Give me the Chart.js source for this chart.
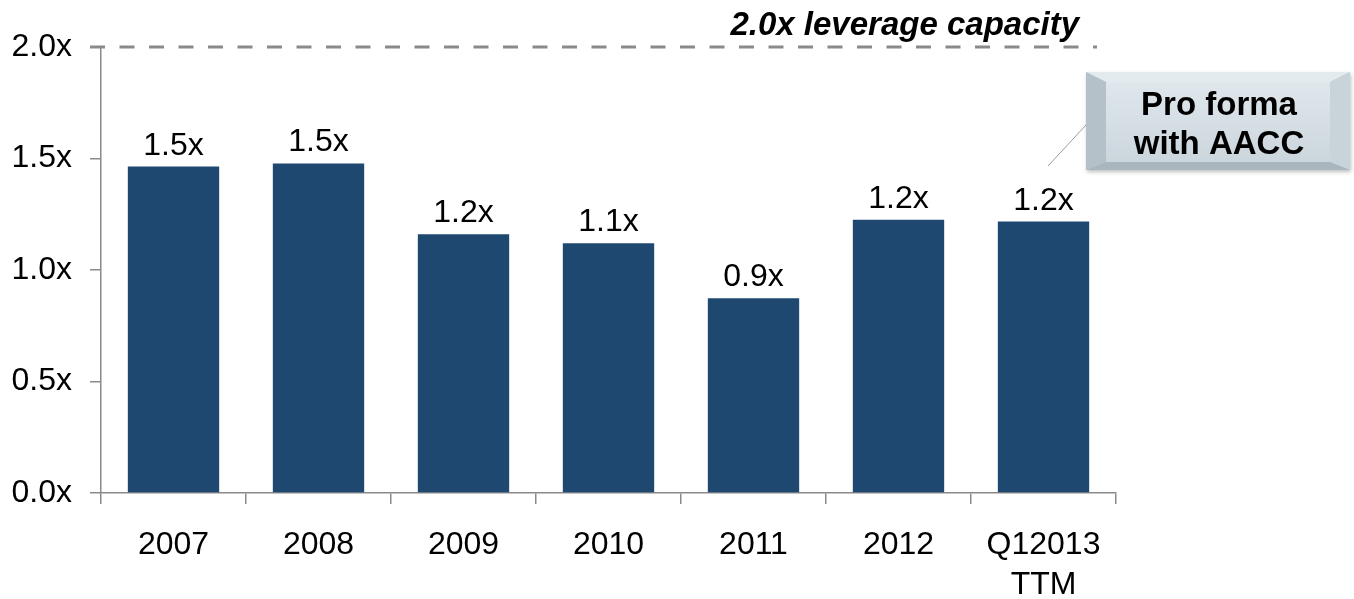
<!DOCTYPE html>
<html>
<head>
<meta charset="utf-8">
<script src="https://cdn.jsdelivr.net/npm/chart.js@4/dist/chart.umd.min.js"></script>
<style>
  html, body { margin: 0; padding: 0; background: #fff; }
  #wrap { width: 1354px; height: 599px; position: relative; }
</style>
</head>
<body>
<div id="wrap"><canvas id="miGrafico"></canvas></div>
<script>
// data
const labels = ['2007', '2008', '2009', '2010', '2011', '2012', ['Q12013', 'TTM']];
const leverage = [1.464, 1.478, 1.16, 1.12, 0.873, 1.225, 1.217];
const yTicks = [0, 0.5, 1.0, 1.5, 2.0];
const capacity = 2.0;
const capacityText = '2.0x leverage capacity';
const calloutLines = ['Pro forma', 'with AACC'];

const FONT = '"Liberation Sans", Arial, sans-serif';

const extras = {
    id: 'extras',
    afterDatasetsDraw(chart) {
        const ctx = chart.ctx;
        const area = chart.chartArea;
        const y = chart.scales.y;

        // value labels on top of bars
        ctx.save();
        ctx.fillStyle = '#000';
        ctx.font = '32px ' + FONT;
        ctx.textAlign = 'center';
        ctx.textBaseline = 'alphabetic';
        chart.getDatasetMeta(0).data.forEach((bar, i) => {
            ctx.fillText(leverage[i].toFixed(1) + 'x', bar.x, bar.y - 12);
        });
        ctx.restore();

        // capacity dashed line
        const yc = y.getPixelForValue(capacity);
        ctx.save();
        ctx.strokeStyle = '#8a8a8a';
        ctx.lineWidth = 3;
        ctx.setLineDash([15, 14.5]);
        ctx.beginPath();
        ctx.moveTo(area.left - 11, yc);
        ctx.lineTo(area.right - 19, yc);
        ctx.stroke();
        ctx.restore();

        ctx.save();
        ctx.fillStyle = '#000';
        ctx.font = 'italic bold 33px ' + FONT;
        ctx.textAlign = 'right';
        ctx.textBaseline = 'alphabetic';
        ctx.fillText(capacityText, area.right - 37, yc - 12);
        ctx.restore();

        // callout box
        const bx = area.right - 30, by = 72, bw = 264, bh = 98;
        ctx.save();
        ctx.strokeStyle = '#9a9a9a';
        ctx.lineWidth = 1;
        ctx.beginPath();
        ctx.moveTo(area.right - 68, 166);
        ctx.lineTo(bx, 125);
        ctx.stroke();

        ctx.shadowColor = 'rgba(0,0,0,0.25)';
        ctx.shadowBlur = 4;
        ctx.shadowOffsetX = 1;
        ctx.shadowOffsetY = 2;
        ctx.fillStyle = '#c3cfd6';
        ctx.fillRect(bx, by, bw, bh);
        ctx.shadowColor = 'transparent';

        // bevel edges
        const inset = { l: 20, r: 20, t: 10, b: 8 };
        ctx.fillStyle = '#e4ebef';
        ctx.beginPath();
        ctx.moveTo(bx, by); ctx.lineTo(bx + bw, by);
        ctx.lineTo(bx + bw - inset.r, by + inset.t); ctx.lineTo(bx + inset.l, by + inset.t);
        ctx.closePath(); ctx.fill();
        ctx.fillStyle = '#b4c1c9';
        ctx.beginPath();
        ctx.moveTo(bx, by); ctx.lineTo(bx + inset.l, by + inset.t);
        ctx.lineTo(bx + inset.l, by + bh - inset.b); ctx.lineTo(bx, by + bh);
        ctx.closePath(); ctx.fill();
        ctx.fillStyle = '#c9d4da';
        ctx.beginPath();
        ctx.moveTo(bx + bw, by); ctx.lineTo(bx + bw - inset.r, by + inset.t);
        ctx.lineTo(bx + bw - inset.r, by + bh - inset.b); ctx.lineTo(bx + bw, by + bh);
        ctx.closePath(); ctx.fill();
        ctx.fillStyle = '#a9b6be';
        ctx.beginPath();
        ctx.moveTo(bx, by + bh); ctx.lineTo(bx + inset.l, by + bh - inset.b);
        ctx.lineTo(bx + bw - inset.r, by + bh - inset.b); ctx.lineTo(bx + bw, by + bh);
        ctx.closePath(); ctx.fill();

        const g = ctx.createLinearGradient(0, by + inset.t, 0, by + bh - inset.b);
        g.addColorStop(0, '#dfe7ec');
        g.addColorStop(1, '#cbd6dc');
        ctx.fillStyle = g;
        ctx.fillRect(bx + inset.l, by + inset.t, bw - inset.l - inset.r, bh - inset.t - inset.b);

        ctx.fillStyle = '#000';
        ctx.font = 'bold 33px ' + FONT;
        ctx.textAlign = 'center';
        ctx.textBaseline = 'alphabetic';
        calloutLines.forEach((t, i) => {
            ctx.fillText(t, bx + 133, 115 + i * 38.5);
        });
        ctx.restore();
    }
};

const grafico = new Chart(document.getElementById('miGrafico'), {
    type: 'bar',
    data: {
        labels: labels,
        datasets: [{
            data: leverage,
            backgroundColor: '#1f4870',
            borderWidth: 0,
            categoryPercentage: 1,
            barPercentage: 0.63
        }]
    },
    options: {
        responsive: true,
        maintainAspectRatio: false,
        animation: false,
        layout: { padding: { top: 47, right: 238, left: 0, bottom: 0 } },
        plugins: {
            legend: { display: false },
            tooltip: { enabled: false }
        },
        scales: {
            x: {
                afterFit(scale) { scale.height = 106; },
                grid: { drawOnChartArea: false, color: '#8a8a8a', tickLength: 11, lineWidth: 1.5 },
                border: { color: '#8a8a8a', width: 1.5 },
                ticks: { color: '#000', font: { family: FONT, size: 32, lineHeight: 1.25 }, padding: 21, maxRotation: 0 }
            },
            y: {
                min: 0,
                max: 2,
                afterFit(scale) { scale.width = 101; },
                afterBuildTicks(scale) { scale.ticks = yTicks.map(v => ({ value: v })); },
                grid: { drawOnChartArea: false, color: '#8a8a8a', tickLength: 11, lineWidth: 1.5 },
                border: { color: '#8a8a8a', width: 1.5 },
                ticks: {
                    color: '#000',
                    font: { family: FONT, size: 32 },
                    padding: 18,
                    callback: v => v.toFixed(1) + 'x'
                }
            }
        }
    },
    plugins: [extras]
});
</script>
</body>
</html>
